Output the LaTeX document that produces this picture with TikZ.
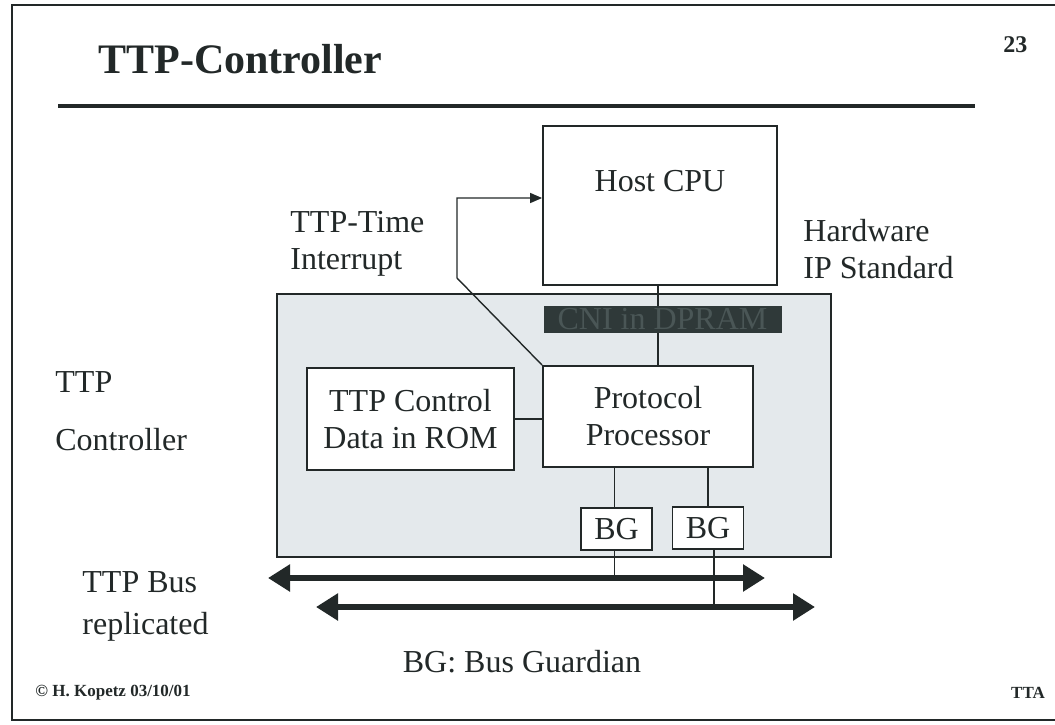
\documentclass[tikz,border=0pt]{standalone}
\usepackage{fontspec}
\setmainfont{Liberation Serif}
\usepackage{tikz}
\usetikzlibrary{arrows.meta,positioning}
\definecolor{ttpink}{RGB}{34,40,40}
\definecolor{ttpgrey}{RGB}{228,233,236}
\definecolor{ttpdpram}{RGB}{47,57,57}
\definecolor{ttpdpramtext}{RGB}{74,86,86}
\newcommand{\bodyfont}{\fontsize{16}{18.5}\selectfont}
\tikzstyle{unit} = [rectangle, draw=ttpink, fill=white, line width=0.9pt, inner sep=0pt, align=center, font=\bodyfont, text=ttpink]
\tikzstyle{chip} = [rectangle, draw=ttpink, fill=ttpgrey, line width=0.8pt, inner sep=0pt]
\tikzstyle{slidetext} = [inner sep=0pt, font=\bodyfont, text=ttpink]
\tikzstyle{link} = [line width=0.7pt, color=ttpink]
\tikzstyle{arrow} = [link, -{Triangle[length=6pt,width=5pt]}]
\tikzstyle{bus} = [line width=3pt, color=ttpink, {Triangle[length=11pt,width=13pt]}-{Triangle[length=11pt,width=13pt]}]

\begin{document}
\begin{tikzpicture}[x=0.5pt,y=-0.5pt]
\useasboundingbox (0,0) rectangle (1055,724);
% slide frame and title
\draw[link, line width=0.9pt] (1055,5) -- (12,5) -- (12,720) -- (1055,720);
\node (title) [anchor=base west, inner sep=0pt, text=ttpink, font=\fontsize{21}{25}\selectfont\bfseries] at (98,73) {TTP-Controller};
\node (page) [anchor=base west, inner sep=0pt, text=ttpink, font=\fontsize{12}{14}\selectfont\bfseries] at (1003,52) {23};
\draw[line width=2.3pt, ttpink] (58,106) -- (975,106);

% controller and host
\node (ctrl) [chip, minimum width=277pt, minimum height=131.5pt] at (554,425.5) {};
\node (host) [unit, minimum width=117pt, minimum height=79.5pt] at (660,205.5) {};
\node (hosttext) [slidetext] at (660,181) {Host CPU};
\node (pp) [unit, minimum width=105pt, minimum height=50.5pt] at (648,416.5) {Protocol\\Processor};
\node (rom) [unit, minimum width=103.5pt, minimum height=51pt] at (410.5,419) {TTP Control\\Data in ROM};
\draw[link] ([xshift=-1pt]host.south) -- ([xshift=-1pt]host.south |- pp.north);
\node (cni) [rectangle, fill=ttpdpram, draw=ttpdpram, inner sep=0pt, minimum width=118.5pt, minimum height=13pt, text=ttpdpramtext, font=\bodyfont] at (662.5,319) {CNI in DPRAM};
\node (bg1) [unit, minimum width=35.5pt, minimum height=21pt] at (616.5,529) {BG};
\node (bg2) [unit, minimum width=35.5pt, minimum height=21pt] at (708,528) {BG};

% connections
\draw[link] (rom.east) -- (rom.east -| pp.west);
\draw[link] ([xshift=-1pt]bg1.north) -- ([xshift=-1pt]bg1.north |- pp.south);
\draw[link] (bg2.north) -- (bg2.north |- pp.south);
\coordinate (bend) at (457,278);
\draw[arrow] (pp.north west) -- (bend) |- ([yshift=3.75pt]host.west);

% replicated bus
\coordinate (bus1l) at (268,578);
\coordinate (bus1r) at (765,578);
\coordinate (bus2l) at (316,607);
\coordinate (bus2r) at (815,607);
\draw[link] ([xshift=-1pt]bg1.south) -- ([xshift=-1pt]bg1.south |- bus1l);
\draw[link] ([xshift=3pt]bg2.south) -- ([xshift=3pt]bg2.south |- bus2l);
\draw[bus] (bus1l) -- (bus1r);
\draw[bus] (bus2l) -- (bus2r);

% labels
\node (irq) [slidetext, anchor=west, align=left] at (290,244) {TTP-Time\\Interrupt};
\node (hwip) [slidetext, anchor=west, align=left] at (803,249) {Hardware\\IP Standard};
\node (ttp) [slidetext, anchor=west] at (55,382) {TTP};
\node (ctrlname) [slidetext, anchor=west] at (55,440) {Controller};
\node (busname) [slidetext, anchor=west, align=left, font=\fontsize{16}{21}\selectfont] at (82,606) {TTP Bus\\replicated};
\node (bgkey) [slidetext] at (522,662) {BG: Bus Guardian};
\node (author) [anchor=west, inner sep=0pt, text=ttpink, font=\fontsize{8.5}{10}\selectfont\bfseries] at (35,693) {© H. Kopetz 03/10/01};
\node (tta) [inner sep=0pt, text=ttpink, font=\fontsize{8.5}{10}\selectfont\bfseries] at (1028,693) {TTA};
\end{tikzpicture}
\end{document}
